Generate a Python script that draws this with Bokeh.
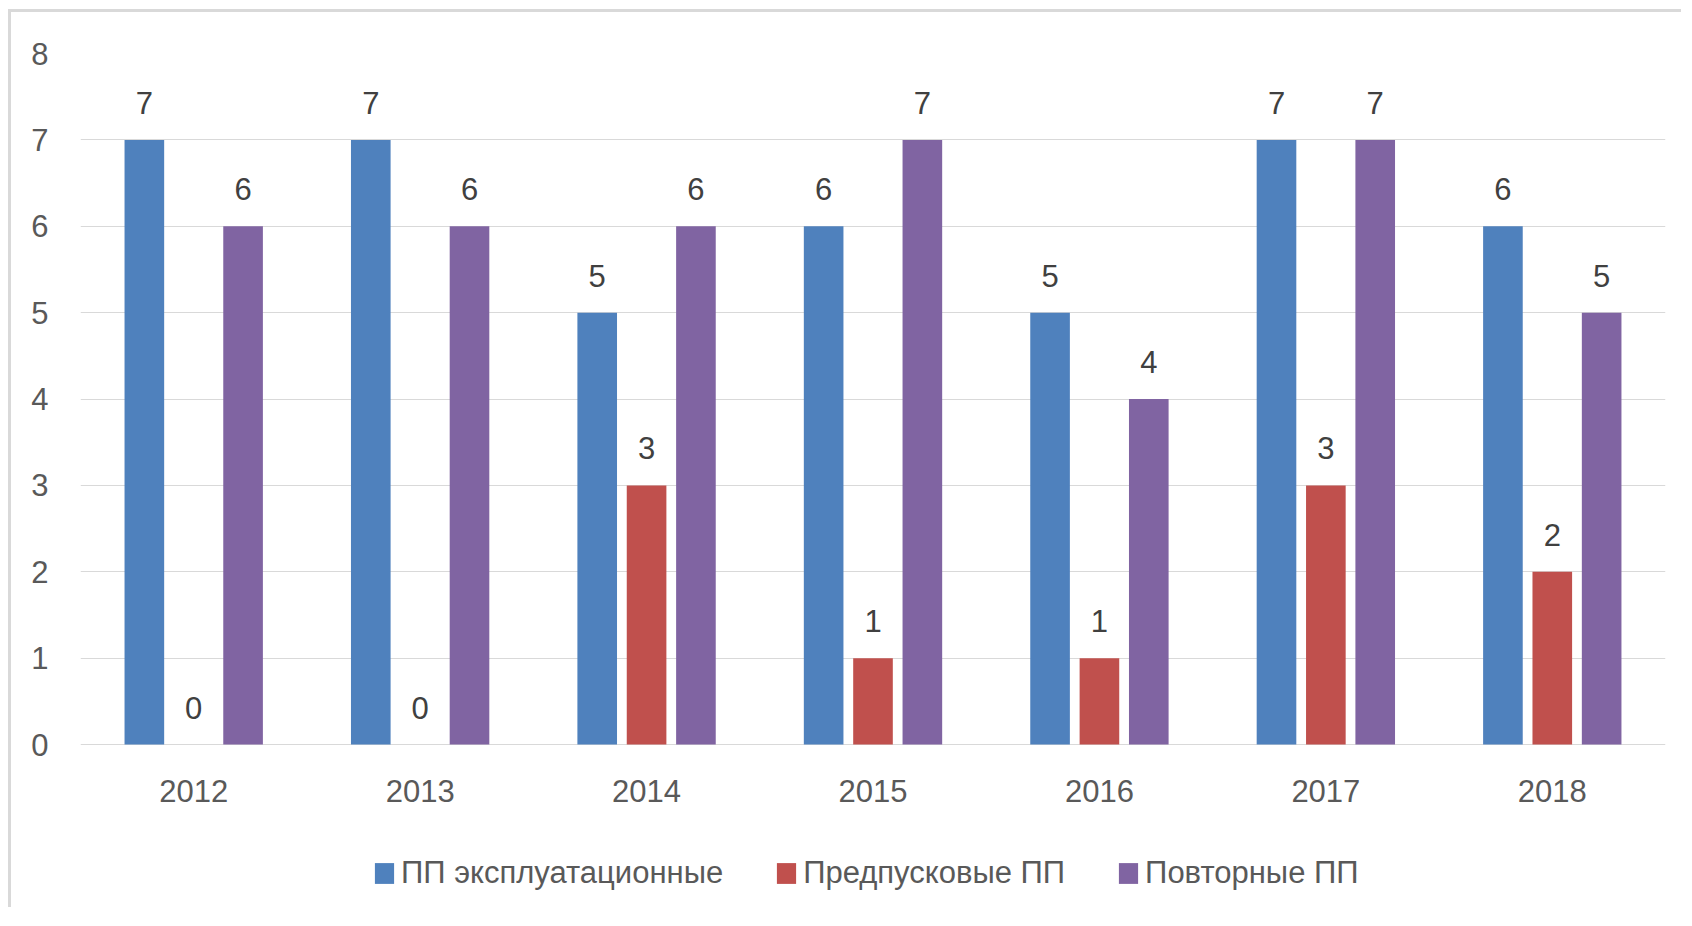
from bokeh.plotting import figure
from bokeh.models import ColumnDataSource, FactorRange, Range1d, Legend, LegendItem, FixedTicker
from bokeh.transform import dodge
from bokeh.core.properties import value
from bokeh.embed import file_html
from bokeh.resources import INLINE

years = ["2012", "2013", "2014", "2015", "2016", "2017", "2018"]
series_names = ["ПП эксплуатационные", "Предпусковые ПП", "Повторные ПП"]
expl = [7, 7, 5, 6, 5, 7, 6]
prelaunch = [0, 0, 3, 1, 1, 3, 2]
repeat = [6, 6, 6, 7, 4, 7, 5]
y_ticks = [0, 1, 2, 3, 4, 5, 6, 7, 8]
colors = ["#4F81BD", "#C0504D", "#8064A2"]

FONT = "Liberation Sans"

src = ColumnDataSource(dict(
    years=years,
    expl=expl, prelaunch=prelaunch, repeat=repeat,
    expl_lbl=[str(v) for v in expl],
    prelaunch_lbl=[str(v) for v in prelaunch],
    repeat_lbl=[str(v) for v in repeat],
    zero=[0] * len(years),
))

# plot area: 691 px for 0..8, extended downward to hold the category labels and legend
FRAME_H = 850
Y_MAX = 8
Y_MIN = Y_MAX - FRAME_H / (691 / Y_MAX)

p = figure(x_range=FactorRange(*years, range_padding=0), y_range=Range1d(Y_MIN, Y_MAX),
           frame_width=1585, frame_height=FRAME_H, output_backend="svg", toolbar_location=None,
           min_border_left=69, min_border_right=16, min_border_top=41, min_border_bottom=4)
p.styles = {"border-left": "3px solid #d9d9d9", "border-top": "3px solid #d9d9d9",
            "margin-top": "9px", "margin-left": "8px"}
p.outline_line_color = None
p.background_fill_color = "white"
p.border_fill_color = "white"

offsets = [-0.218, 0.0, 0.218]
cols = ["expl", "prelaunch", "repeat"]
bar_w = 0.175
items = []
for name, col, off, c in zip(series_names, cols, offsets, colors):
    r = p.vbar(x=dodge("years", off, range=p.x_range), top=col, width=bar_w, source=src,
               fill_color=c, line_color=None)
    p.text(x=dodge("years", off, range=p.x_range), y=col, text=col + "_lbl", source=src,
           text_align="center", text_baseline="alphabetic", y_offset=-37,
           text_font=value(FONT), text_font_size="31px", text_color="#404040")
    items.append(LegendItem(label=name, renderers=[r]))

# category (year) labels under the baseline
p.text(x="years", y="zero", text="years", source=src, text_align="center",
       text_baseline="alphabetic", y_offset=46, text_font=value(FONT),
       text_font_size="31px", text_color="#595959")

legend = Legend(items=items, orientation="horizontal", location=(292, 12),
                glyph_width=24, glyph_height=26, label_standoff=5, spacing=51,
                label_text_font=FONT, label_text_font_size="31px", label_text_color="#595959",
                border_line_color=None, background_fill_alpha=0, margin=0, padding=0)
p.add_layout(legend, "center")

p.xgrid.grid_line_color = None
p.ygrid.ticker = FixedTicker(ticks=y_ticks)
p.ygrid.grid_line_color = "#d9d9d9"
p.ygrid.grid_line_width = 1

p.xaxis.visible = False

p.yaxis.ticker = FixedTicker(ticks=y_ticks)
p.yaxis.axis_line_color = None
p.yaxis.major_tick_line_color = None
p.yaxis.minor_tick_line_color = None
p.yaxis.major_label_standoff = 26
p.yaxis.major_label_text_font = FONT
p.yaxis.major_label_text_font_size = "31px"
p.yaxis.major_label_text_color = "#595959"

open("out.html", "w").write(file_html(p, INLINE))
